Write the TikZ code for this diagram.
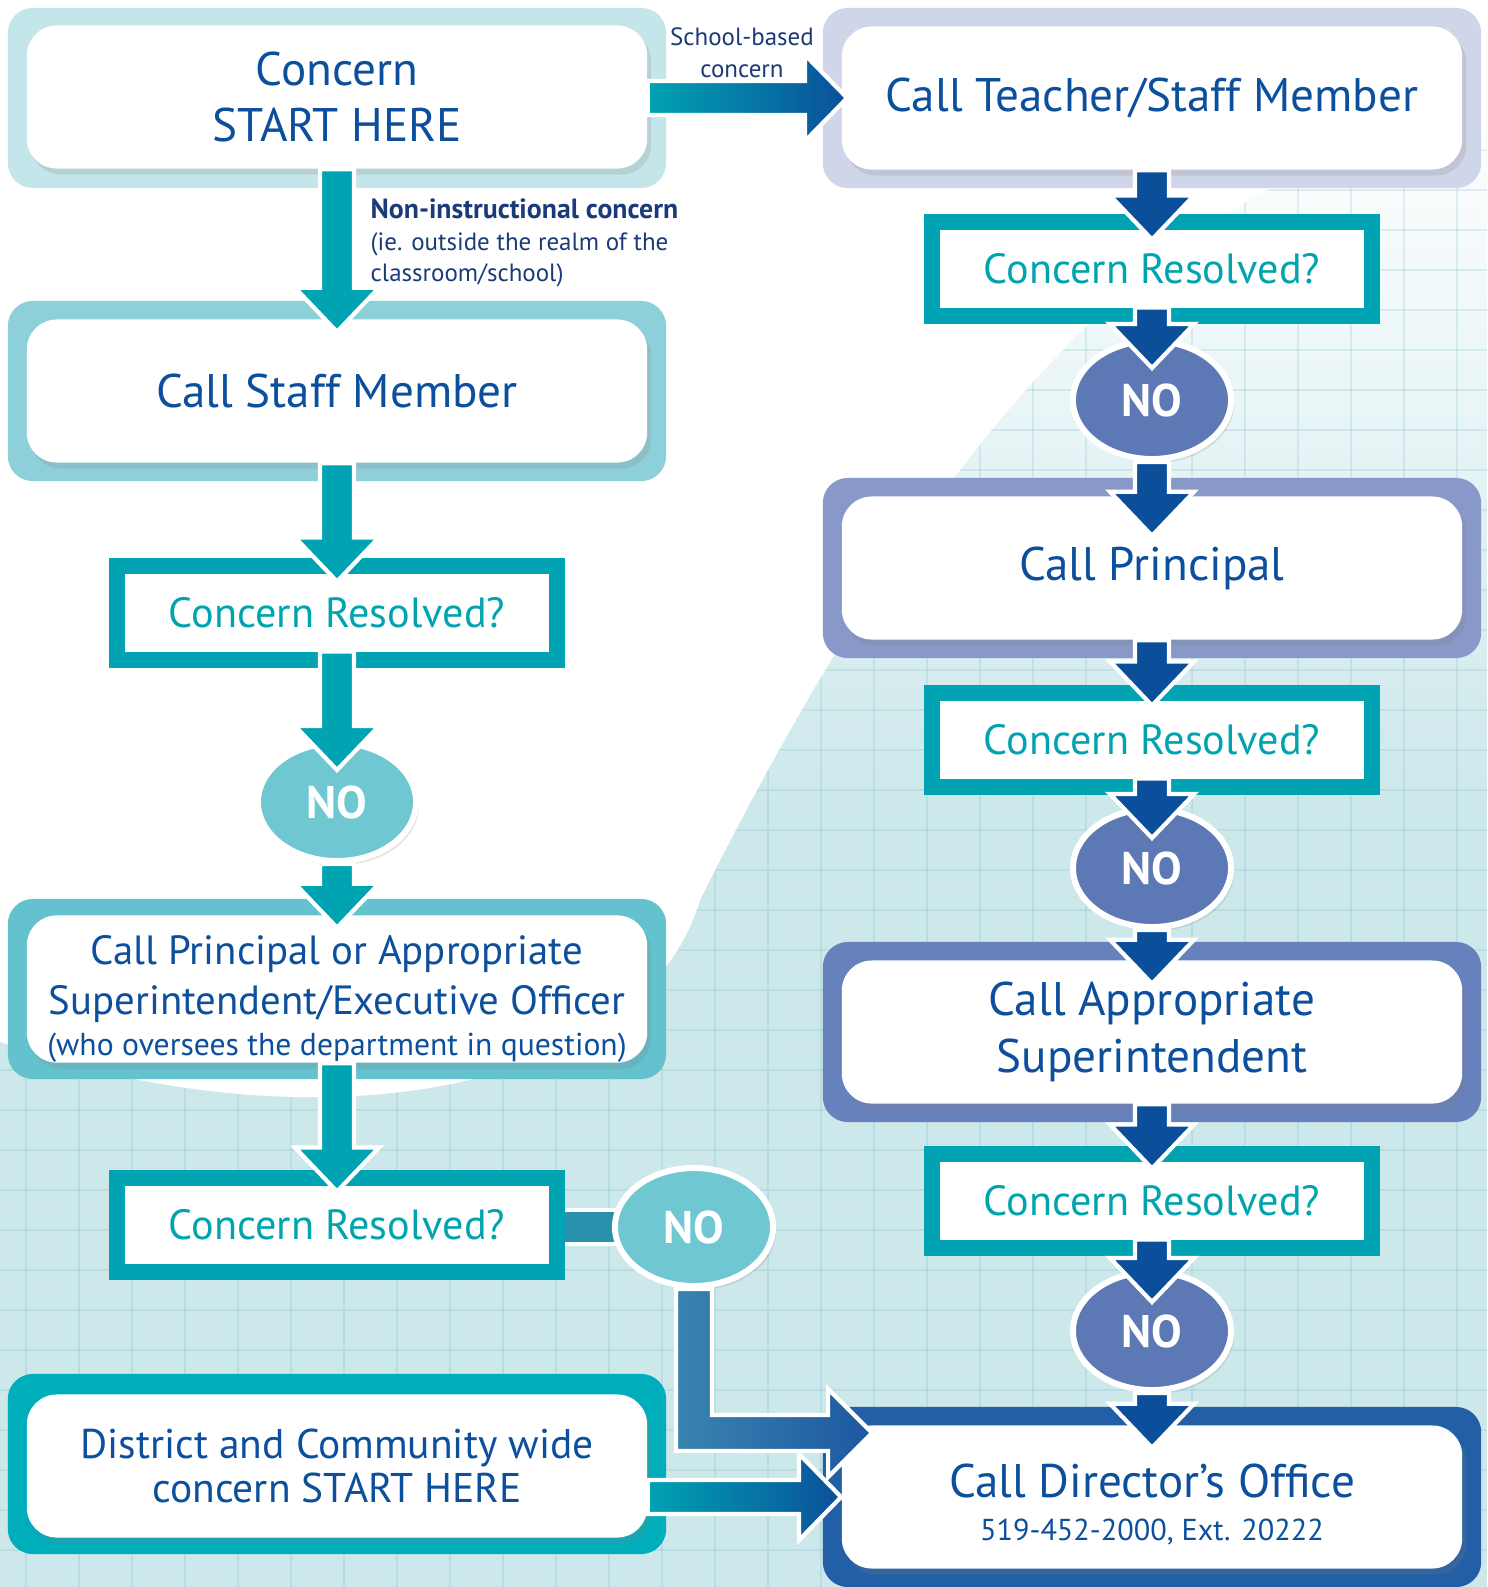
\documentclass[tikz,border=0pt]{standalone}
\usepackage{fontspec}
\setmainfont{PT Sans}
\usetikzlibrary{calc,positioning,shapes.geometric,shadows}

\definecolor{txtblue}{HTML}{0C4F9C}
\definecolor{navy}{HTML}{1B3B78}
\definecolor{tealarrow}{HTML}{00A3B2}
\definecolor{bluearrow}{HTML}{0B4F9A}
\definecolor{resteal}{HTML}{00A3B1}
\definecolor{restext}{HTML}{00A4AF}
\definecolor{nolight}{HTML}{6FC7D1}
\definecolor{nodark}{HTML}{5C79B5}
\definecolor{barblue}{HTML}{2B8FAE}
\definecolor{turnA}{HTML}{3A84B0}
\definecolor{turnB}{HTML}{1C57A0}
\definecolor{bgteal}{HTML}{CDE8EB}
\definecolor{gridteal}{HTML}{5DB5BF}
\definecolor{fstart}{HTML}{C4E6EB}
\definecolor{fteacher}{HTML}{D0D6EA}
\definecolor{fstaff}{HTML}{8ED0DA}
\definecolor{fprincipal}{HTML}{8898C8}
\definecolor{fappr}{HTML}{63C2CE}
\definecolor{fsuper}{HTML}{6781BD}
\definecolor{fdistrict}{HTML}{00AEBB}
\definecolor{fdirector}{HTML}{225FA6}

\pgfdeclarelayer{bg}
\pgfdeclarelayer{behind}
\pgfsetlayers{bg,behind,main}

\newcommand{\bigtxt}{\fontsize{13.4}{16.2}\selectfont}
\newcommand{\midtxt}{\fontsize{11.6}{14.2}\selectfont}
\newcommand{\restxt}{\fontsize{12}{14}\selectfont}
\newcommand{\notxt}{\fontsize{13}{14}\selectfont\bfseries}
\newcommand{\smalltxt}{\fontsize{7.1}{9}\selectfont}

% block arrows between named nodes
\newcommand{\flowdown}[3]{%
  \path[#1, draw=white, line width=1.2pt, line join=miter]
    let \p1=(#2), \p2=(#3) in
    (\x1-0.17cm,\y1) -- (\x1-0.17cm,\y2+0.44cm) -- (\x1-0.42cm,\y2+0.44cm)
    -- (\x1,\y2) -- (\x1+0.42cm,\y2+0.44cm) -- (\x1+0.17cm,\y2+0.44cm)
    -- (\x1+0.17cm,\y1) -- cycle;}
\newcommand{\flowright}[3]{%
  \path[#1, draw=white, line width=1.2pt, line join=miter]
    let \p1=(#2), \p2=(#3) in
    (\x1,\y2+0.17cm) -- (\x2-0.42cm,\y2+0.17cm) -- (\x2-0.42cm,\y2+0.43cm)
    -- (\x2,\y2) -- (\x2-0.42cm,\y2-0.43cm) -- (\x2-0.42cm,\y2-0.17cm)
    -- (\x1,\y2-0.17cm) -- cycle;}
\newcommand{\flowturn}[3]{%
  \path[#1, draw=white, line width=1.2pt, line join=miter]
    let \p1=(#2), \p2=(#3) in
    (\x1-0.18cm,\y1) -- (\x1-0.18cm,\y2-0.18cm) -- (\x2-0.44cm,\y2-0.18cm)
    -- (\x2-0.44cm,\y2-0.44cm) -- (\x2,\y2) -- (\x2-0.44cm,\y2+0.44cm)
    -- (\x2-0.44cm,\y2+0.18cm) -- (\x1+0.18cm,\y2+0.18cm) -- (\x1+0.18cm,\y1) -- cycle;}

\tikzset{
  outerframe/.style={fill=#1, rounded corners=0.25cm, minimum width=6.58cm,
    minimum height=1.8cm, inner sep=0pt},
  stepbox/.style={fill=white, rounded corners=0.3cm, minimum width=6.2cm,
    minimum height=1.43cm, inner sep=0pt, align=center, text=txtblue, font=\bigtxt,
    drop shadow={opacity=0.2, shadow xshift=0.04cm, shadow yshift=-0.06cm}},
  resolved/.style={draw=resteal, line width=0.16cm, fill=white, minimum width=4.39cm,
    minimum height=0.93cm, inner sep=0pt, text=restext, font=\restxt},
  nobubble/.style={ellipse, fill=#1, draw=white, line width=0.06cm, minimum width=1.58cm,
    minimum height=1.18cm, inner sep=0pt, text=white, font=\notxt,
    drop shadow={opacity=0.2, shadow xshift=0.03cm, shadow yshift=-0.04cm}},
  sidenote/.style={text=navy, font=\smalltxt, inner sep=0pt},
  gridline/.style={gridteal, opacity=0.18, line width=0.6pt}
}

\begin{document}
\begin{tikzpicture}[x=0.01cm,y=-0.01cm]
	\useasboundingbox (0,0) rectangle (1487,1587);
	% background
	\begin{pgfonlayer}{bg}
		\fill[white] (0,0) rectangle (1487,1587);
		\shade[top color=white, bottom color=bgteal] (0,100) rectangle (1487,800);
		\fill[bgteal] (0,800) rectangle (1487,1587);
		\foreach \gx in {26,79,...,1487} \draw[gridline] (\gx,130) -- (\gx,1587);
		\foreach \gy in {150,190,...,1587} \draw[gridline] (0,\gy) -- (1487,\gy);
		\fill[white] (-5,-5) -- (1492,-5) -- (1492,120)
			.. controls (1150,150) and (900,500) .. (700,900)
			.. controls (640,1100) and (300,1150) .. (-5,1040) -- cycle;
	\end{pgfonlayer}

	% left column
	\node[outerframe=fstart] (startF) at (337,98) {};
	\node[stepbox] (start) at (337,97) {Concern\\START HERE};
	\node[outerframe=fstaff] (staffF) at (337,391) {};
	\node[stepbox] (staff) at (337,391) {Call Staff Member};
	\node[resolved] (resA) at (337,613) {Concern Resolved?};
	\node[nobubble=nolight] (noA) at (337,802) {NO};
	\node[outerframe=fappr] (apprF) at (337,989) {};
	\node[stepbox, font=\midtxt] (appr) at (337,989) {\rule{0pt}{14pt}Call Principal or Appropriate\\Superintendent/Executive Officer\\[-2.5pt]{\fontsize{9}{10}\selectfont (who oversees the department in question)}};
	\node[resolved] (resB) at (337,1225) {Concern Resolved?};
	\node[nobubble=nolight] (noB) at (694,1227) {NO};
	\node[outerframe=fdistrict] (districtF) at (337,1464) {};
	\node[stepbox, font=\fontsize{11.8}{12.5}\selectfont] (district) at (337,1466) {District and Community wide\\concern START HERE};

	% right column
	\node[outerframe=fteacher] (teacherF) at (1152,98) {};
	\node[stepbox] (teacher) at (1152,98) {Call Teacher/Staff Member};
	\node[resolved] (resT) at (1152,269) {Concern Resolved?};
	\node[nobubble=nodark] (noT) at (1152,400) {NO};
	\node[outerframe=fprincipal] (principalF) at (1152,568) {};
	\node[stepbox] (principal) at (1152,568) {Call Principal};
	\node[resolved] (resP) at (1152,740) {Concern Resolved?};
	\node[nobubble=nodark] (noP) at (1152,868) {NO};
	\node[outerframe=fsuper] (superF) at (1152,1032) {};
	\node[stepbox] (super) at (1152,1032) {Call Appropriate\\Superintendent};
	\node[resolved] (resS) at (1152,1201) {Concern Resolved?};
	\node[nobubble=nodark] (noS) at (1152,1331) {NO};
	\node[outerframe=fdirector] (directorF) at (1152,1497) {};
	\node[stepbox] (director) at (1152,1497) {\rule{0pt}{14pt}Call Director’s Office\\[-4pt]{\fontsize{8.6}{10}\selectfont 519-452-2000, Ext. 20222}};

	% labels on the two routes
	\node[sidenote, align=center] (schoolnote) at (742,53) {School-based\\concern};
	\node[sidenote, align=left, anchor=west] (routenote) at (370,243) {{\fontsize{7.9}{9}\selectfont\bfseries Non-instructional concern}\\(ie. outside the realm of the\\classroom/school)};

	% connectors, left column
	\flowdown{fill=tealarrow}{start.south}{[yshift=-0.13cm]staff.north}
	\flowdown{fill=tealarrow}{staff.south}{[yshift=-0.23cm]resA.north}
	\flowdown{fill=tealarrow}{[yshift=0.16cm]resA.south}{[yshift=-0.3cm]noA.north}
	\flowdown{fill=tealarrow}{noA.south}{[yshift=-0.13cm]appr.north}
	\flowdown{fill=tealarrow}{appr.south}{[yshift=-0.21cm]resB.north}
	\begin{pgfonlayer}{behind}
		\path[fill=barblue, draw=white, line width=1.2pt] let \p1=(resB.center), \p2=(noB.center) in
			(\x1,\y2+0.17cm) rectangle (\x2,\y2-0.17cm);
	\end{pgfonlayer}
	\flowturn{left color=turnA, right color=turnB}{noB.south}{[xshift=0.31cm,yshift=0.64cm]director.west}
	\flowright{left color=tealarrow, right color=bluearrow}{district.east}{director.west}
	\flowright{left color=tealarrow, right color=bluearrow}{start.east}{[xshift=0.06cm]teacher.west}

	% connectors, right column
	\flowdown{fill=bluearrow}{teacher.south}{[yshift=-0.25cm]resT.north}
	\flowdown{fill=bluearrow}{[yshift=0.16cm]resT.south}{[yshift=-0.3cm]noT.north}
	\flowdown{fill=bluearrow}{noT.south}{[yshift=-0.4cm]principal.north}
	\flowdown{fill=bluearrow}{principal.south}{[yshift=-0.2cm]resP.north}
	\flowdown{fill=bluearrow}{[yshift=0.16cm]resP.south}{[yshift=-0.32cm]noP.north}
	\flowdown{fill=bluearrow}{noP.south}{[yshift=-0.24cm]super.north}
	\flowdown{fill=bluearrow}{super.south}{[yshift=-0.22cm]resS.north}
	\flowdown{fill=bluearrow}{[yshift=0.16cm]resS.south}{[yshift=-0.33cm]noS.north}
	\flowdown{fill=bluearrow}{noS.south}{[yshift=-0.23cm]director.north}
\end{tikzpicture}
\end{document}
